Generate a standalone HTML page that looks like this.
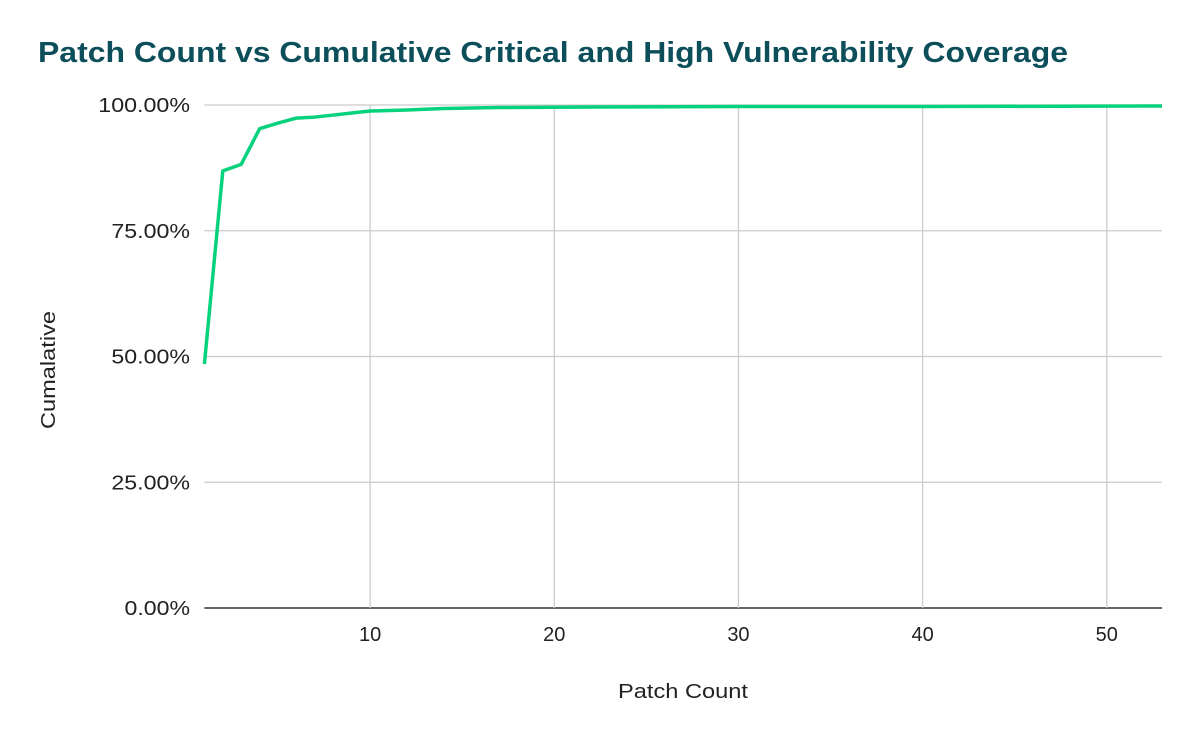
<!DOCTYPE html>
<html><head><meta charset="utf-8"><style>
body{margin:0;background:#fff;font-family:"Liberation Sans",Arial,sans-serif}
svg text{font-family:"Liberation Sans",Arial,sans-serif}
</style></head><body>
<svg id="chart" width="1200" height="742" xmlns="http://www.w3.org/2000/svg">
<rect width="1200" height="742" fill="#fff"/>
<text x="38" y="62" font-size="29" font-weight="bold" fill="#0c4f5b" textLength="1030" lengthAdjust="spacingAndGlyphs">Patch Count vs Cumulative Critical and High Vulnerability Coverage</text>
<g id="grid"></g>
<g id="ticks"></g>
<text transform="translate(55,370) rotate(-90)" text-anchor="middle" font-size="20" fill="#222" textLength="118" lengthAdjust="spacingAndGlyphs">Cumalative</text>
<text x="683" y="698" text-anchor="middle" font-size="20" fill="#222" textLength="130" lengthAdjust="spacingAndGlyphs">Patch Count</text>
<g id="series"></g>
</svg>
<script>
const xValues=[1,2,3,4,5,6,7,8,9,10,12,14,17,22,30,40,53];
const yValues=[48.5,86.9,88.2,95.3,96.4,97.4,97.6,98.0,98.4,98.8,99.0,99.3,99.5,99.6,99.7,99.7,99.8];
const xTicks=[10,20,30,40,50];
const yTicks=[0,25,50,75,100];
const L=204.4,R=1162,T=105,B=608;
const sx=v=>L+(v-1)/(53-1)*(R-L);
const sy=v=>B-v/100*(B-T);
const NS="http://www.w3.org/2000/svg";
const grid=document.getElementById('grid'),ticks=document.getElementById('ticks'),series=document.getElementById('series');
function mk(tag,attrs,parent){const e=document.createElementNS(NS,tag);for(const k in attrs)e.setAttribute(k,attrs[k]);parent.appendChild(e);return e;}
yTicks.forEach(v=>{
 const l=mk('line',{x1:L,x2:R,y1:sy(v),y2:sy(v),stroke:v===0?'#333':'#ccc','stroke-width':v===0?1.5:1.3},grid);
 
 
 const s=v.toFixed(2)+'%';
 const t=mk('text',{x:190,y:sy(v)+7,'text-anchor':'end','font-size':20,fill:'#222',textLength:s.length*13.1,lengthAdjust:'spacingAndGlyphs'},ticks);
 t.textContent=s;
 
 
});
xTicks.forEach(v=>{
 const l=mk('line',{x1:sx(v),x2:sx(v),y1:T,y2:B,stroke:'#ccc','stroke-width':1.3},grid);
 
 
 const t=mk('text',{x:sx(v),y:641,'text-anchor':'middle','font-size':20,fill:'#222'},ticks);
 t.textContent=v;
 
 
});
const p=mk('polyline',{points:xValues.map((x,i)=>sx(x)+','+sy(yValues[i])).join(' '),fill:'none',stroke:'#06d17d','stroke-width':3.5,'stroke-linejoin':'round'},series);


</script>
</body></html>
